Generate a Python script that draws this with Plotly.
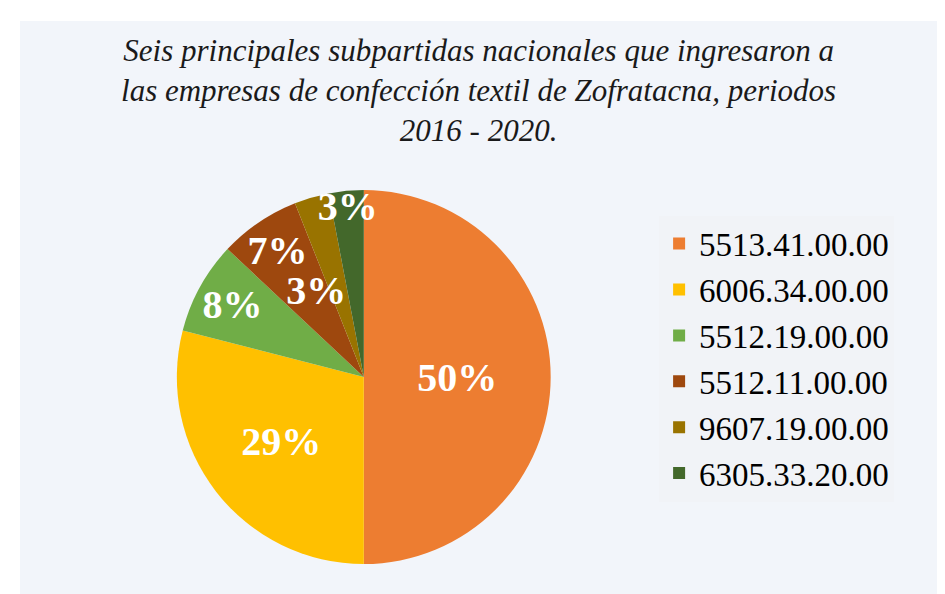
import plotly.graph_objects as go

labels = ["5513.41.00.00", "6006.34.00.00", "5512.19.00.00",
          "5512.11.00.00", "9607.19.00.00", "6305.33.20.00"]
values = [50, 29, 8, 7, 3, 3]
colors = ["#ED7D31", "#FFC000", "#70AD47", "#9E480E", "#997300", "#43682B"]

title_text = ("Seis principales subpartidas nacionales que ingresaron a<br>"
              "las empresas de confección textil de Zofratacna, periodos<br>"
              "2016 - 2020.")

SERIF = "Liberation Serif, Times New Roman, serif"

W, H = 945, 594
ml, mt = 12, 13

pct = "%{percent:.0%}"
nb = "\u00a0"
templates = [pct, pct, pct, pct,
             nb + "<br>" + nb + "<br>" + nb + "<br>" + pct,
             pct]

fig = go.Figure(go.Pie(
    labels=labels,
    values=values,
    sort=False,
    direction="clockwise",
    rotation=0,
    marker=dict(colors=colors, line=dict(width=0)),
    texttemplate=templates,
    textposition="inside",
    insidetextorientation="horizontal",
    textfont=dict(family=SERIF, size=40, color="white", weight="bold"),
    hoverinfo="label+percent",
    domain=dict(x=[0.168, 0.569], y=[0.0654, 0.709]),
))

fig.update_layout(
    width=W, height=H,
    margin=dict(l=ml, t=mt, r=0, b=0),
    paper_bgcolor="white",
    plot_bgcolor="#F2F5FA",
    uniformtext=dict(minsize=40, mode="show"),
    title=dict(
        text=title_text,
        x=0.498, xref="container", xanchor="center",
        y=0.911, yref="container", yanchor="top",
        font=dict(family=SERIF, size=31, color="#1a1a1a", style="italic"),
    ),
    legend=dict(
        x=0.685, y=0.665, xanchor="left", yanchor="top",
        bgcolor="#F1F3F7",
        font=dict(family=SERIF, size=33, color="black"),
        tracegroupgap=0, itemwidth=30,
    ),
    shapes=[dict(type="rect", xref="paper", yref="paper", x0=0, x1=1, y0=0, y1=1,
                 fillcolor="#F2F5FA", line=dict(width=0), layer="below")],
)

fig.write_html("out.html")
